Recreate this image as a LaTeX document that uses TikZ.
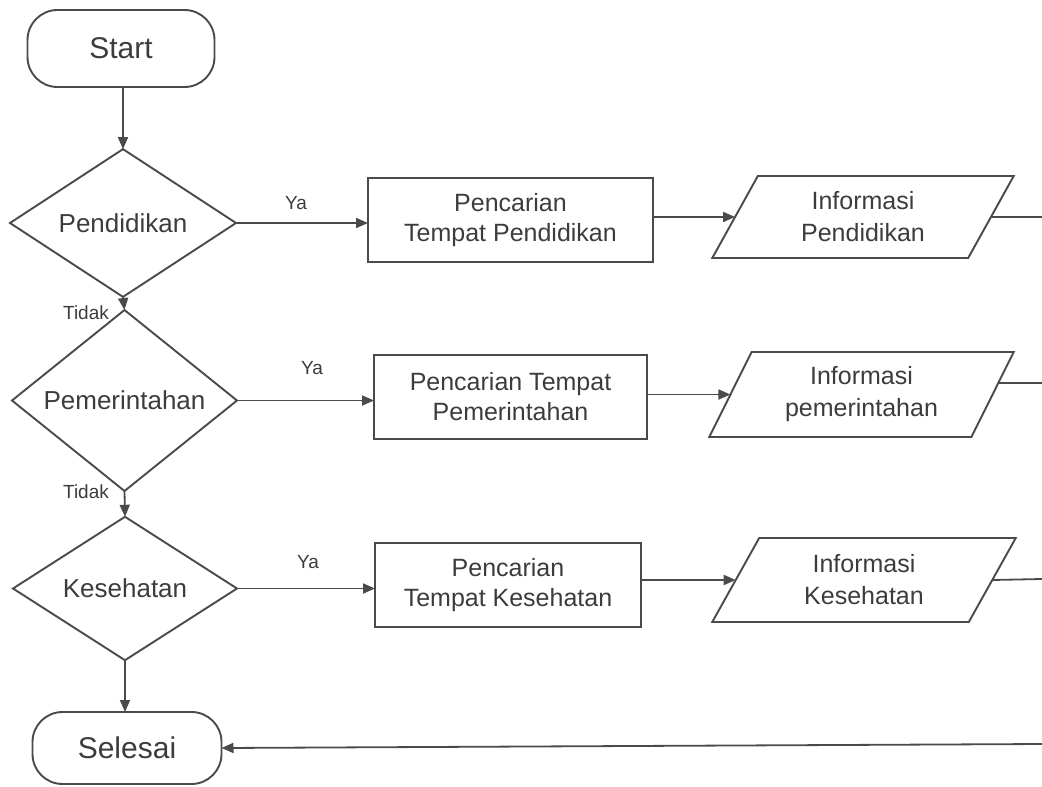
\documentclass[tikz,border=0pt]{standalone}
\usepackage{fontspec}
\setmainfont{Liberation Sans}
\usetikzlibrary{shapes.geometric,arrows.meta,calc}
\definecolor{ink}{HTML}{4A4A4A}
\definecolor{txt}{HTML}{3C3C3C}
\begin{document}
\begin{tikzpicture}[x=1pt,y=-1pt,
  every node/.style={text=txt, inner sep=0pt, outer sep=0pt},
  shapeline/.style={draw=ink, line width=1.9pt},
  terminal/.style={shapeline, rounded corners=30pt, font=\fontsize{30}{34}\selectfont},
  decision/.style={shapeline, diamond, font=\fontsize{26}{30}\selectfont},
  process/.style={shapeline, rectangle, align=center, font=\fontsize{25}{30}\selectfont},
  iodata/.style={shapeline, trapezium, trapezium stretches=true,
    trapezium left angle=62, trapezium right angle=118,
    align=center, font=\fontsize{25}{32}\selectfont},
  flow/.style={draw=ink, line width=1.8pt, -{Triangle[length=12pt,width=10pt]}},
  plain/.style={draw=ink, line width=1.8pt},
  lbl/.style={font=\fontsize{19}{22}\selectfont}]
\useasboundingbox (0,0) rectangle (1042,787);

% terminals
\node[terminal, minimum width=187pt, minimum height=77pt] (start) at (121,48.5) {Start};
\node[terminal, minimum width=189pt, minimum height=72pt] (end) at (127,748) {Selesai};

% decisions
\node[decision, minimum width=226pt, minimum height=132pt] (d1) at (123,223) {Pendidikan};
\node[decision, minimum width=225pt, minimum height=111pt] (d2) at (124.5,400.5) {Pemerintahan};
\node[decision, minimum width=224pt, minimum height=133pt] (d3) at (125,588.5) {Kesehatan};

% processes
\node[process, minimum width=285pt, minimum height=84pt] (r1) at (510.5,220) {Pencarian\\Tempat Pendidikan};
\node[process, minimum width=273pt, minimum height=84pt] (r2) at (510.5,397) {Pencarian Tempat\\Pemerintahan};
\node[process, minimum width=266pt, minimum height=84pt] (r3) at (508,585) {Pencarian\\Tempat Kesehatan};

% outputs
\node[iodata, minimum width=302pt, minimum height=82pt] (p1) at (863,217) {Informasi\\Pendidikan};
\node[iodata, minimum width=305pt, minimum height=85pt] (p2) at (861.5,394.5) {Informasi\\pemerintahan};
\node[iodata, minimum width=304pt, minimum height=84pt] (p3) at (864,580) {Informasi\\Kesehatan};

% free ends running off to the right
\coordinate (e1) at (1042,217);
\coordinate (e2) at (1042,383);
\coordinate (e3) at (1042,579);
\coordinate (e4) at (1042,744);

% main column
\draw[flow] (start.south -| d1.north) -- (d1.north);
\draw[flow] (d1.south) -- (d2.north);
\draw[flow] (d2.south) -- (d3.north);
\draw[flow] (d3.south) -- (d3.south |- end.north);

% yes branches
\draw[flow] (d1.east) -- (d1.east -| r1.west);
\draw[flow] (d2.east) -- (d2.east -| r2.west);
\draw[flow] (d3.east) -- (d3.east -| r3.west);

\draw[flow] (r1.east |- p1.west) -- (p1.west);
\draw[flow] (r2.east |- p2.west) -- (p2.west);
\draw[flow] (r3.east |- p3.west) -- (p3.west);

\draw[plain] (p1.east) -- (e1);
\draw[plain] ($(p2.bottom right corner)!0.635!(p2.top right corner)$) -- (e2);
\draw[plain] (p3.east) -- (e3);
\draw[flow] (e4) -- (end.east);

% branch labels
\node[lbl] (ya1) at (296,203) {Ya};
\node[lbl] (ya2) at (312,368) {Ya};
\node[lbl] (ya3) at (308,562) {Ya};
\node[lbl] (no1) at (86,313) {Tidak};
\node[lbl] (no2) at (86,492) {Tidak};
\end{tikzpicture}
\end{document}
